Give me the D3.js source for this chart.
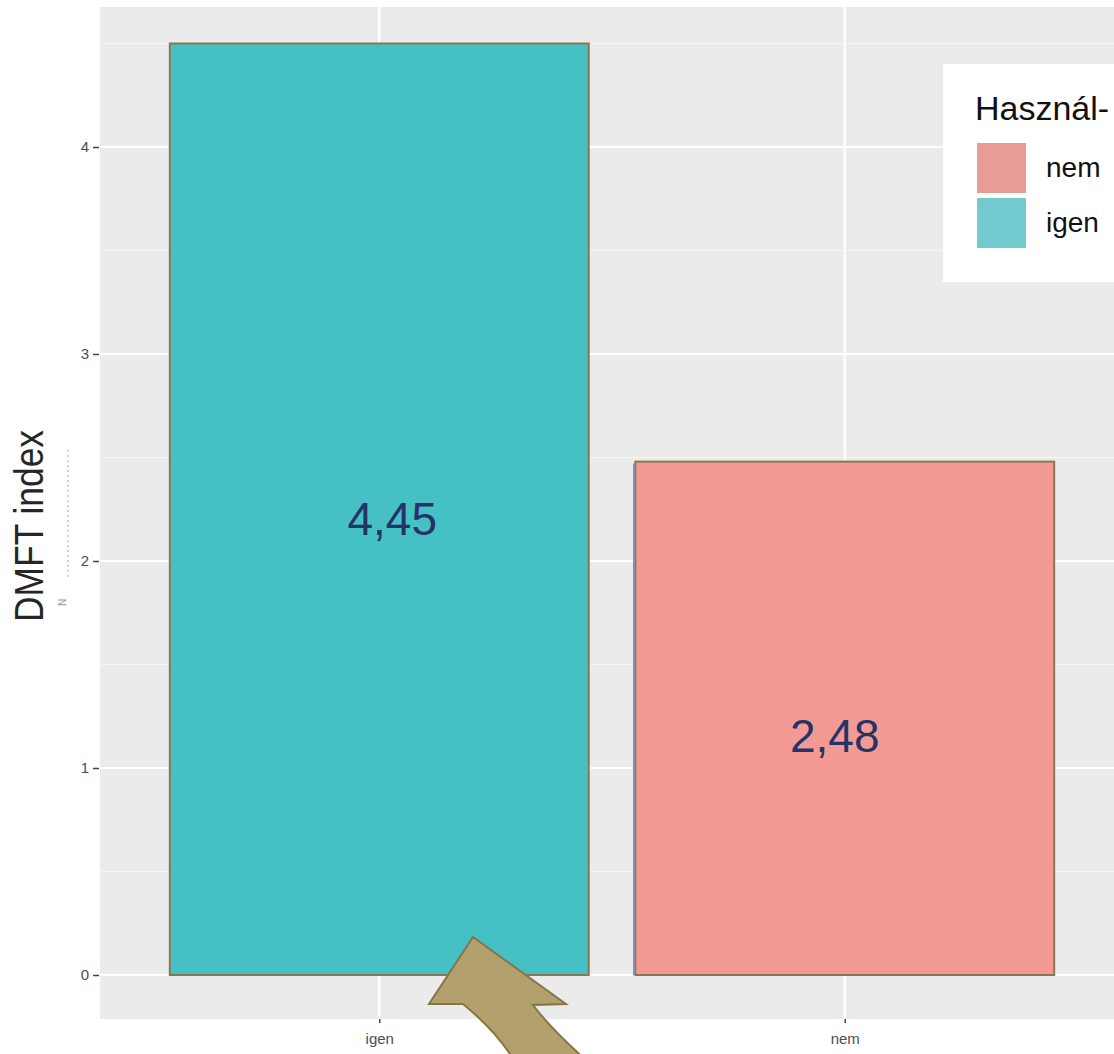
<!DOCTYPE html>
<html><head><meta charset="utf-8">
<script src="https://cdn.jsdelivr.net/npm/d3@7"></script>
<style>body{margin:0;background:#fff;}svg{display:block;font-family:"Liberation Sans",Arial,sans-serif;}</style>
</head><body>
<svg id="c" width="1114" height="1054"></svg>
<script>
const categories = ["igen", "nem"];
const values = [4.5, 2.48];
const valueLabels = ["4,45", "2,48"];
const barColors = ["#45C1C5", "#F39A94"];
const legendKeys = ["nem", "igen"];
const legendColors = ["#E99C96", "#73CBD0"];
const yTicks = [0, 1, 2, 3, 4];
const yMinor = [0.5, 1.5, 2.5, 3.5, 4.5];
const yTitle = "DMFT index";
const legendTitle = "Használ-";

const svg = d3.select("#c");
const panel = {x0: 100, x1: 1124, y0: 7, y1: 1019};

const xp = d3.scalePoint().domain(categories).range([panel.x0, panel.x1]).padding(0.6);
const step = xp.step();
const barW = step * 0.9;
const y = d3.scaleLinear().domain([0, 4]).range([975, 147]);

// panel background
svg.append("rect").attr("x", panel.x0).attr("y", panel.y0)
  .attr("width", 1114 - panel.x0).attr("height", panel.y1 - panel.y0).attr("fill", "#EBEBEB");

// minor gridlines
svg.selectAll(".ymin").data(yMinor).join("line")
  .attr("x1", panel.x0).attr("x2", 1114).attr("y1", d => y(d)).attr("y2", d => y(d))
  .attr("stroke", "#F5F5F5").attr("stroke-width", 1.2);
// major gridlines
svg.selectAll(".ymaj").data(yTicks).join("line")
  .attr("x1", panel.x0).attr("x2", 1114).attr("y1", d => y(d)).attr("y2", d => y(d))
  .attr("stroke", "#FFFFFF").attr("stroke-width", 2.2);
svg.selectAll(".xmaj").data(categories).join("line")
  .attr("x1", d => xp(d)).attr("x2", d => xp(d)).attr("y1", panel.y0).attr("y2", panel.y1)
  .attr("stroke", "#FFFFFF").attr("stroke-width", 2.2);

// y axis
const yAxis = d3.axisLeft(y).tickValues(yTicks).tickFormat(d3.format("d")).tickSize(6).tickPadding(4);
const ya = svg.append("g").attr("transform", `translate(${panel.x0 - 1},0)`).call(yAxis);
ya.select(".domain").remove();
ya.selectAll("line").attr("stroke", "#444").attr("stroke-width", 1.5);
ya.selectAll("text").attr("fill", "#4D4D4D").attr("font-size", 15).attr("font-family", "Liberation Sans, Arial");

// x axis
const xAxis = d3.axisBottom(xp).tickSize(4).tickPadding(10);
const xa = svg.append("g").attr("transform", `translate(0,${panel.y1})`).call(xAxis);
xa.select(".domain").remove();
xa.selectAll("line").attr("stroke", "#444").attr("stroke-width", 1.5);
xa.selectAll("text").attr("fill", "#4D4D4D").attr("font-size", 15).attr("font-family", "Liberation Sans, Arial");

// bars
const data = categories.map((c, i) => ({c, v: values[i], lab: valueLabels[i], col: barColors[i]}));
svg.selectAll(".bar").data(data).join("rect")
  .attr("x", d => xp(d.c) - barW / 2).attr("width", barW)
  .attr("y", d => y(d.v)).attr("height", d => y(0) - y(d.v))
  .attr("fill", d => d.col).attr("stroke", "#8A7752").attr("stroke-width", 2);
// blue left edge artifact on second bar
svg.append("line").attr("x1", xp("nem") - barW / 2 - 1.5).attr("x2", xp("nem") - barW / 2 - 1.5)
  .attr("y1", y(values[1]) + 2).attr("y2", y(0)).attr("stroke", "#6B8EF5").attr("stroke-width", 1.5);

// value labels (manually placed overlay annotations)
const labDx = [13, -10], labDy = [26, 34];
svg.selectAll(".vl").data(data).join("text")
  .attr("x", (d, i) => xp(d.c) + labDx[i])
  .attr("y", (d, i) => y(d.v / 2) + labDy[i])
  .attr("text-anchor", "middle").attr("font-size", 46).attr("fill", "#263366")
  .text(d => d.lab);

// y title
svg.append("text").attr("transform", "translate(43,526) rotate(-90)")
  .attr("text-anchor", "middle").attr("font-size", 40).attr("fill", "#262626")
  .attr("textLength", 192).attr("lengthAdjust", "spacingAndGlyphs")
  .text(yTitle);
// faint residual artifact
svg.append("line").attr("x1", 68).attr("x2", 68).attr("y1", 450).attr("y2", 578)
  .attr("stroke", "#9aa3b5").attr("stroke-width", 1).attr("stroke-dasharray", "2,3");
svg.append("text").attr("transform", "translate(66,606) rotate(-90)")
  .attr("font-size", 10).attr("fill", "#999").text("N");

// legend
const lg = svg.append("g");
lg.append("rect").attr("x", 943).attr("y", 64).attr("width", 200).attr("height", 218).attr("fill", "#fff");
lg.append("text").attr("x", 975).attr("y", 120).attr("font-size", 34).attr("fill", "#111").text(legendTitle);
lg.selectAll(".k").data(legendKeys).join("rect")
  .attr("x", 977).attr("y", (d, i) => 143 + i * 55).attr("width", 49).attr("height", 50)
  .attr("fill", (d, i) => legendColors[i]);
lg.selectAll(".kt").data(legendKeys).join("text")
  .attr("x", 1046).attr("y", (d, i) => 177 + i * 55).attr("font-size", 28).attr("fill", "#111")
  .text(d => d);

// annotation arrow
svg.append("path")
  .attr("d", "M473,937 L566,1004 L533,1005 Q552,1030 586,1060 L514,1060 Q495,1030 463,1004 L429,1004 Z")
  .attr("fill", "#B2A16D").attr("stroke", "#857548").attr("stroke-width", 2).attr("stroke-linejoin", "miter");
</script>
</body></html>
